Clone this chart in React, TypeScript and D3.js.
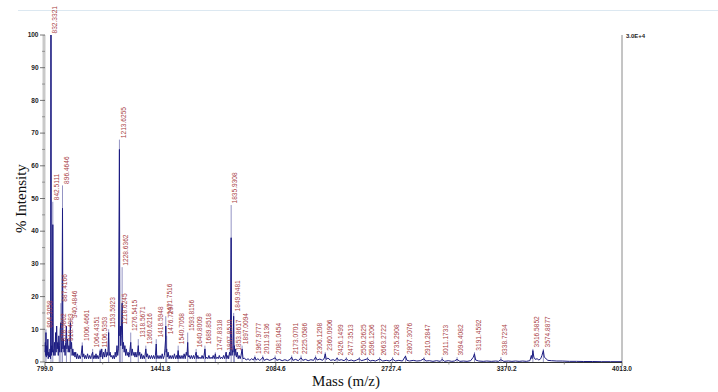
import * as d3 from 'd3';

// labelled peaks: [m/z, % intensity at label]
const peakMass = [
  804.3058, 832.3321, 842.5111, 878.5862, 887.4166, 896.4646, 918.4383, 940.4846,
  1006.4661, 1064.4351, 1106.5353, 1153.5923, 1213.6255, 1218.6245, 1228.6362,
  1276.5415, 1318.5671, 1360.6216, 1418.5948, 1476.7207, 1471.7516, 1540.7058,
  1593.8156, 1640.8009, 1689.8518, 1747.8318, 1807.851, 1835.9308, 1853.8617,
  1849.9481, 1897.0094, 1967.9777, 2011.9136, 2081.0454, 2173.0701, 2225.0586,
  2306.1208, 2360.0906, 2426.1499, 2477.3513, 2550.2625, 2596.1206, 2663.2722,
  2735.2908, 2807.3076, 2910.2847, 3011.1733, 3094.4082, 3191.4592, 3338.7234,
  3516.5852, 3574.8877,
];
const peakIntensity = [
  10, 100, 49, 6, 18, 54, 6, 13,
  6, 4, 4, 10, 68, 11, 29,
  9, 7, 5, 7, 8, 14, 5,
  9, 4, 5, 3, 3, 48, 3,
  15, 5, 2, 2, 2, 2, 2,
  2, 3, 1.5, 1.5, 1.5, 1.5, 1.5,
  1.5, 2, 1.5, 1.5, 1.5, 3, 1.5,
  4, 4,
];

// profile trace, [m/z, %]
const profileLow: [number, number][] = [
  [799, 3], [801, 6], [803, 2], [804.3, 9], [806, 1.5], [809, 5], [812, 2], [815, 7], [817, 1],
  [820, 3], [824, 1.5], [827, 4], [830, 1], [832.3, 100], [834, 2], [837, 5], [840, 3],
  [842.5, 42], [845, 4], [848, 2], [852, 6], [855, 2], [858, 9], [861, 3], [864, 11], [867, 4],
  [870, 6], [873, 2], [876, 8], [878.6, 5], [881, 3], [884, 10], [887.4, 12], [890, 3], [893, 6],
  [896.5, 47], [899, 4], [902, 7], [905, 3], [908, 5], [911, 2], [914, 6], [918.4, 11], [921, 4],
  [925, 7], [928, 3], [932, 5], [936, 3], [940.5, 12], [943, 4], [947, 6], [950, 2], [954, 4],
  [958, 2], [962, 3], [966, 1.5], [970, 3], [975, 1], [980, 2.5], [985, 1], [990, 2], [995, 1],
  [1000, 2], [1006.5, 5], [1010, 1.5], [1015, 2.5], [1020, 1], [1025, 2], [1030, 1], [1036, 2.5],
  [1042, 1], [1048, 2], [1054, 1], [1058, 2], [1064.4, 3], [1068, 1], [1073, 2], [1078, 1],
  [1083, 2.5], [1088, 1], [1093, 2], [1098, 1], [1102, 2], [1106.5, 3.5], [1110, 1.5], [1115, 4],
  [1120, 1], [1125, 3], [1130, 1.5], [1136, 4], [1140, 1.5], [1145, 3], [1149, 2], [1153.6, 9],
  [1157, 2], [1162, 3], [1166, 1.5], [1171, 2], [1176, 1], [1180, 2], [1186, 1], [1190, 3],
  [1195, 1.5], [1200, 5], [1204, 2], [1208, 4], [1213.6, 65], [1216, 8], [1218.6, 11], [1221, 5],
  [1224, 8], [1228.6, 18], [1232, 4], [1236, 6], [1240, 3], [1244, 5], [1248, 2], [1252, 4],
  [1257, 2], [1262, 3], [1266, 1.5], [1271, 3], [1276.5, 6], [1280, 2], [1285, 4], [1290, 2],
  [1295, 3], [1300, 1.5],
];
const profileMid: [number, number][] = [
  [1305, 3], [1310, 1.5], [1314, 2.5], [1318.6, 5], [1322, 2], [1327, 3], [1332, 1], [1337, 2.5],
  [1342, 1], [1347, 2], [1352, 1], [1356, 2], [1360.6, 4], [1365, 1.5], [1370, 2.5], [1375, 1],
  [1380, 2], [1386, 1], [1392, 2], [1398, 1], [1404, 2], [1410, 1], [1414, 2], [1418.6, 5.5],
  [1422, 1], [1428, 2], [1434, 1], [1440, 2], [1446, 1], [1452, 2.5], [1458, 1], [1464, 2],
  [1467, 4], [1470.7, 7], [1471.8, 11], [1474, 3], [1477, 4], [1480, 1.5], [1485, 3], [1490, 1],
  [1496, 2], [1502, 1], [1508, 2], [1514, 1], [1520, 2.5], [1526, 1], [1532, 2], [1536, 1],
  [1540.7, 3.5], [1545, 1], [1550, 2], [1556, 1], [1562, 2], [1568, 1], [1574, 2.5], [1580, 1],
  [1586, 3], [1590, 2], [1593.8, 6], [1597, 1.5], [1602, 2], [1608, 1], [1614, 2], [1620, 1],
  [1626, 2], [1632, 1], [1636, 2], [1640.8, 3], [1645, 1], [1650, 2], [1656, 1], [1662, 1.5],
  [1668, 1], [1674, 2], [1680, 1], [1685, 2], [1689.9, 4], [1694, 1], [1700, 1.5], [1706, 1],
  [1712, 2], [1718, 1], [1724, 1.5], [1730, 1], [1736, 2], [1742, 1], [1747.8, 2.5], [1752, 1],
  [1758, 1.5], [1764, 1], [1770, 2], [1776, 1], [1782, 1.5], [1788, 1], [1794, 2], [1800, 1],
  [1807.9, 3], [1812, 1], [1818, 2], [1822, 1], [1827, 3], [1831, 2], [1835.9, 38], [1838, 5],
  [1841, 2], [1845, 4], [1849.9, 14], [1852, 3], [1853.9, 5], [1857, 2], [1861, 4], [1865, 1.5],
  [1870, 3], [1875, 1], [1880, 2], [1886, 1], [1891, 2], [1897, 4], [1902, 1],
];
const profileHigh: [number, number][] = [
  [1910, 1.2], [1920, 0.6], [1930, 1], [1940, 0.5], [1950, 1], [1960, 0.6], [1968, 1.5],
  [1975, 0.6], [1985, 1], [1995, 0.5], [2005, 0.9], [2012, 1.5], [2020, 0.5], [2035, 0.9],
  [2050, 0.5], [2065, 0.8], [2081, 1.3], [2090, 0.5], [2105, 0.8], [2120, 0.4], [2135, 0.7],
  [2150, 0.4], [2165, 0.8], [2173, 1.5], [2180, 0.5], [2195, 0.8], [2210, 0.4], [2225, 1.3],
  [2235, 0.5], [2250, 0.8], [2265, 0.4], [2280, 0.7], [2295, 0.5], [2306, 1.5], [2315, 0.6],
  [2330, 0.9], [2345, 0.5], [2355, 1.2], [2360, 2.5], [2366, 0.8], [2375, 1.2], [2390, 0.5],
  [2405, 0.7], [2415, 0.4], [2426, 1.2], [2435, 0.5], [2450, 0.7], [2465, 0.4], [2477, 1],
  [2490, 0.4], [2505, 0.6], [2520, 0.3], [2535, 0.6], [2550, 1], [2560, 0.4], [2575, 0.6],
  [2596, 1], [2610, 0.3], [2625, 0.5], [2640, 0.3], [2663, 0.9], [2680, 0.3], [2700, 0.5],
  [2720, 0.3], [2735, 0.9], [2750, 0.3], [2770, 0.5], [2790, 0.3], [2807, 1.8], [2815, 0.5],
  [2830, 0.3], [2850, 0.5], [2870, 0.3], [2890, 0.4], [2910, 1], [2920, 0.3], [2940, 0.4],
  [2960, 0.2], [2980, 0.4], [3000, 0.2], [3011, 0.8], [3025, 0.2], [3045, 0.4], [3065, 0.2],
  [3080, 0.3], [3094, 0.8], [3110, 0.2], [3130, 0.3], [3150, 0.2], [3170, 0.4], [3185, 1.5],
  [3191, 2.5], [3198, 0.6], [3215, 0.3], [3240, 0.2], [3260, 0.3], [3285, 0.2], [3310, 0.3],
  [3325, 0.2], [3338, 0.7], [3355, 0.2], [3380, 0.3], [3400, 0.2], [3420, 0.3], [3440, 0.2],
  [3460, 0.3], [3480, 0.2], [3500, 0.4], [3508, 2], [3512, 1], [3516.6, 3.5], [3522, 1.5],
  [3530, 0.8], [3540, 1], [3550, 0.6], [3560, 1], [3567, 2], [3574.9, 3.5], [3580, 1.5],
  [3590, 1], [3600, 0.5], [3620, 0.4], [3650, 0.3], [3680, 0.3], [3720, 0.2], [3760, 0.2],
  [3800, 0.15], [3850, 0.15], [3900, 0.1], [3950, 0.1], [4013, 0.1],
];

const xTickValues = [799.0, 1441.8, 2084.6, 2727.4, 3370.2, 4013.0];
const yTickValues = [0, 10, 20, 30, 40, 50, 60, 70, 80, 90, 100];
const scaleLabel = '3.0E+4';

const W = 718;
const H = 392;

export default function App() {
  const x = d3.scaleLinear().domain([799, 4013]).range([45, 622]);
  const y = d3.scaleLinear().domain([0, 100]).range([362, 35]);

  const profile = [...profileLow, ...profileMid, ...profileHigh];
  const line = d3
    .line<[number, number]>()
    .x((d) => x(d[0]))
    .y((d) => y(d[1]));

  const minorX = d3.pairs(xTickValues).map(([a, b]) => (a + b) / 2);
  const minorY = d3.pairs(yTickValues).map(([a, b]) => (a + b) / 2);

  const tickFont = { fontFamily: 'Arial, "Liberation Sans", sans-serif', fontSize: 6.5, fontWeight: 700 };

  return (
    <svg
      width={W}
      height={H}
      style={{ position: 'absolute', left: 0, top: 0, background: '#fff' }}
    >
      <line x1={18} x2={W} y1={10.5} y2={10.5} stroke="#dce8f1" strokeWidth={1} />

      {/* y axis band */}
      <rect x={42.5} y={y(100)} width={3} height={y(0) - y(100)} fill="#c9c9c9" />
      {yTickValues.map((t) => (
        <g key={t}>
          <line x1={40} x2={45} y1={y(t)} y2={y(t)} stroke="#555" strokeWidth={0.8} />
          <text x={38.5} y={y(t)} dy="0.35em" textAnchor="end" fill="#222" {...tickFont}>
            {t}
          </text>
        </g>
      ))}
      {minorY.map((t) => (
        <line key={t} x1={42} x2={45} y1={y(t)} y2={y(t)} stroke="#777" strokeWidth={0.7} />
      ))}

      {/* right frame */}
      <line x1={x(4013)} x2={x(4013)} y1={y(100)} y2={y(0)} stroke="#8a8a8a" strokeWidth={1} />
      <text x={x(4013) + 4} y={y(100) + 3} fill="#222" {...tickFont} fontSize={6}>
        {scaleLabel}
      </text>

      {/* light sticks for labelled peaks */}
      {peakMass.map((m, i) => (
        <line
          key={m}
          x1={x(m)}
          x2={x(m)}
          y1={y(0)}
          y2={y(peakIntensity[i])}
          stroke="#9494c4"
          strokeWidth={1}
        />
      ))}

      <path d={line(profile) ?? ''} fill="none" stroke="#1c1c82" strokeWidth={1} strokeLinejoin="round" />

      {/* x axis */}
      <line x1={x(799)} x2={x(4013)} y1={y(0) + 0.5} y2={y(0) + 0.5} stroke="#333" strokeWidth={1} />
      {xTickValues.map((t) => (
        <g key={t}>
          <line x1={x(t)} x2={x(t)} y1={y(0)} y2={y(0) + 4} stroke="#444" strokeWidth={0.8} />
          <text x={x(t)} y={y(0) + 9} textAnchor="middle" fill="#222" {...tickFont}>
            {t.toFixed(1)}
          </text>
        </g>
      ))}
      {minorX.map((t) => (
        <line key={t} x1={x(t)} x2={x(t)} y1={y(0)} y2={y(0) + 2.5} stroke="#666" strokeWidth={0.7} />
      ))}

      {/* peak labels */}
      {peakMass.map((m, i) => (
        <text
          key={m}
          transform={`translate(${x(m) + 4},${y(peakIntensity[i]) - 1.5}) rotate(-90)`}
          dy="0.35em"
          fill="#a8403f"
          fontFamily='Arial, "Liberation Sans", sans-serif'
          fontSize={6.6}
        >
          {m.toFixed(4)}
        </text>
      ))}

      <text
        transform={`translate(26,${(y(0) + y(100)) / 2}) rotate(-90)`}
        textAnchor="middle"
        fontFamily='"Liberation Serif", "Times New Roman", serif'
        fontSize={15}
        fill="#111"
      >
        % Intensity
      </text>
      <text
        x={346}
        y={386}
        textAnchor="middle"
        fontFamily='"Liberation Serif", "Times New Roman", serif'
        fontSize={15}
        fill="#111"
      >
        Mass (m/z)
      </text>
    </svg>
  );
}
